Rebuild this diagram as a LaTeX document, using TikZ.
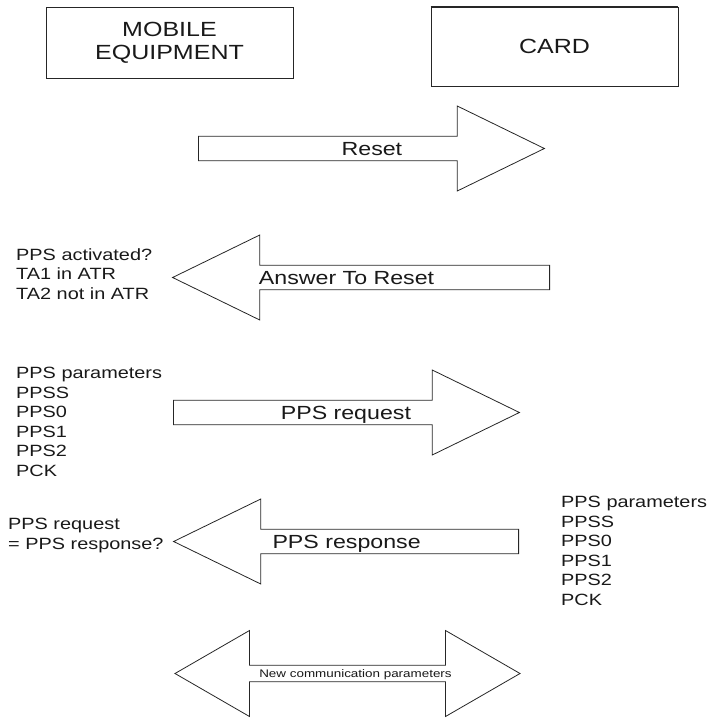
\documentclass[tikz,border=0pt]{standalone}
\usepackage{fontspec}
\setmainfont{Liberation Sans}[FakeStretch=1.22]
\usepackage{tikz}
\usetikzlibrary{shapes.arrows}

\tikzset{
  party/.style={draw=black!85, line width=0.8pt, minimum width=247pt, inner sep=0pt,
    align=center, text=black!90, font=\fontsize{20.5}{23}\selectfont},
  block/.style={draw=black!85, line width=0.8pt, fill=white, inner ysep=2pt,
    text depth=0pt, text=black!90},
  msg/.style={block, single arrow, single arrow tip angle=52,
    single arrow head extend=23pt, minimum width=85pt, text height=13.7pt,
    font=\fontsize{19}{22}\selectfont},
  both/.style={block, double arrow, double arrow tip angle=60,
    double arrow head extend=26.5pt, minimum width=86pt, text height=7.9pt,
    font=\fontsize{11}{13}\selectfont},
  side/.style={anchor=north west, inner sep=0pt, align=left, text=black!90,
    font=\fontsize{16.3}{19.5}\selectfont},
  % move a label along its arrow
  nudge right/.style={execute at begin node={\hspace*{#1}}},
  nudge left/.style={execute at end node={\hspace*{#1}}}
}

\begin{document}
\begin{tikzpicture}[x=1pt, y=-1pt]
  \useasboundingbox (0,0) rectangle (714,718);
  % ---------- the two parties ----------
  \node[party, minimum height=71pt] (me) at (169.5,42.5) {MOBILE\\EQUIPMENT};
  \node[party, minimum height=79pt] (card) at (554.5,46.5) {CARD};
  \draw[black!85, line width=1.8pt] (card.north west) -- (card.north east);
  % ---------- reset and answer to reset ----------
  \node[msg, anchor=tail, minimum height=346pt, nudge right=26pt]
    (reset) at (198,148.5) {Reset};
  \node[msg, anchor=tail, shape border rotate=180, minimum height=377pt,
    nudge left=54pt] (atr) at (550,277.5) {Answer To Reset};
  \node[side] (atrnote) at (16,248) {PPS activated?\\TA1 in ATR\\TA2 not in ATR};
  % ---------- PPS request ----------
  \node[msg, anchor=tail, minimum height=346pt, nudge right=24pt]
    (ppsreq) at (173,412.5) {PPS request};
  \node[side] (reqpar) at (16,367)
    {PPS parameters\\PPSS\\PPS0\\PPS1\\PPS2\\PCK};
  % ---------- PPS response ----------
  \node[msg, anchor=tail, shape border rotate=180, minimum height=345pt,
    nudge left=24pt] (ppsresp) at (519,541.5) {PPS response};
  \node[side] (respcheck) at (8,518) {PPS request\\= PPS response?};
  \node[side] (resppar) at (561,496)
    {PPS parameters\\PPSS\\PPS0\\PPS1\\PPS2\\PCK};
  % ---------- switch to the new parameters ----------
  \node[both, minimum height=345pt, nudge right=16pt] (newpar) at (347.5,673.5)
    {New communication parameters};
\end{tikzpicture}
\end{document}
